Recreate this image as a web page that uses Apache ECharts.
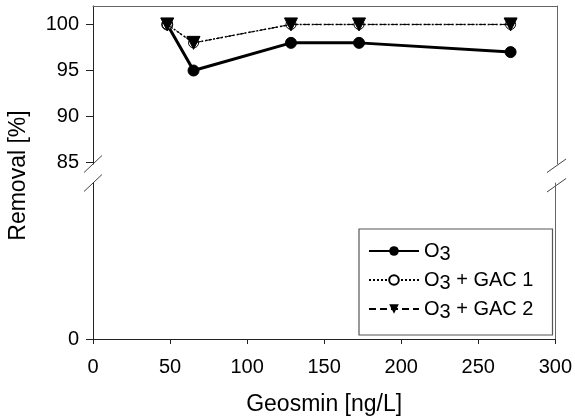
<!DOCTYPE html>
<html>
<head>
<meta charset="utf-8">
<script src="https://cdn.jsdelivr.net/npm/echarts@6/dist/echarts.min.js"></script>
<style>
html,body{margin:0;padding:0;background:#fff;}
#c{width:575px;height:419px;}
</style>
</head>
<body>
<div id="c"></div>
<script>
// ---- data ----
const geosmin = [48, 65, 128, 172, 270];
const o3 = [100, 95, 98, 98, 97];
const o3gac1 = [100, 98, 100, 100, 100];
const o3gac2 = [100, 98, 100, 100, 100];
const seriesNames = ['O3', 'O3 + GAC 1', 'O3 + GAC 2'];
const yTicksUpper = [85, 90, 95, 100];
const yTicksLower = [0];
const xMin = 0, xMax = 300, xStep = 50;
const xTitle = 'Geosmin [ng/L]';
const yTitle = 'Removal [%]';

const FONT = 'Arial, "Liberation Sans", sans-serif';
const pairs = arr => geosmin.map((x, i) => [x, arr[i]]);

const chart = echarts.init(document.getElementById('c'), null, {renderer: 'canvas'});

const baseX = {type: 'value', min: xMin, max: xMax, interval: xStep};

const option = {
  animation: false,
  backgroundColor: '#fff',
  textStyle: {fontFamily: FONT},
  grid: [
    {left: 93, right: 18, top: 6, height: 158},
    {left: 93, right: 18, top: 183, height: 156}
  ],
  xAxis: [
    Object.assign({}, baseX, {
      gridIndex: 0, position: 'top',
      axisLine: {show: true, lineStyle: {color: '#666', width: 1}},
      axisTick: {show: false}, axisLabel: {show: false}, splitLine: {show: false}
    }),
    Object.assign({}, baseX, {
      gridIndex: 1, position: 'bottom',
      name: xTitle, nameLocation: 'middle', nameGap: 54,
      nameTextStyle: {fontSize: 23, color: '#000', fontFamily: FONT},
      axisLine: {show: true, onZero: false, lineStyle: {color: '#222', width: 1}},
      axisTick: {show: true, inside: false, length: 5, lineStyle: {color: '#222'}},
      axisLabel: {show: true, margin: 18, fontSize: 20, color: '#000', fontFamily: FONT},
      splitLine: {show: false}
    })
  ],
  yAxis: [
    {
      type: 'value', gridIndex: 0, min: 84.86, max: 102, position: 'left',
      axisLine: {show: true, lineStyle: {color: '#222', width: 1}},
      axisTick: {show: true, length: 7, customValues: yTicksUpper, lineStyle: {color: '#222'}},
      axisLabel: {show: true, margin: 14, fontSize: 20, color: '#000', fontFamily: FONT, customValues: yTicksUpper},
      splitLine: {show: false}
    },
    {
      type: 'value', gridIndex: 1, min: 0, max: 10, position: 'left',
      axisLine: {show: true, lineStyle: {color: '#222', width: 1}},
      axisTick: {show: true, length: 7, customValues: yTicksLower, lineStyle: {color: '#222'}},
      axisLabel: {show: true, margin: 14, fontSize: 20, color: '#000', fontFamily: FONT, customValues: yTicksLower},
      splitLine: {show: false}
    },
    {
      type: 'value', gridIndex: 0, min: 84.86, max: 102, position: 'right',
      axisLine: {show: true, lineStyle: {color: '#666', width: 1}},
      axisTick: {show: false}, axisLabel: {show: false}, splitLine: {show: false}
    },
    {
      type: 'value', gridIndex: 1, min: 0, max: 10, position: 'right',
      axisLine: {show: true, lineStyle: {color: '#666', width: 1}},
      axisTick: {show: false}, axisLabel: {show: false}, splitLine: {show: false}
    }
  ],
  legend: {
    orient: 'vertical', left: 359, top: 229,
    padding: [12, 19, 13, 9],
    itemWidth: 50, itemHeight: 12, itemGap: 6,
    borderColor: '#555', borderWidth: 1.2, backgroundColor: '#fff',
    data: seriesNames,
    formatter: name => name.replace('O3', 'O{s|3}'),
    textStyle: {
      fontSize: 20, color: '#000', fontFamily: FONT,
      rich: {s: {fontSize: 20, color: '#000', fontFamily: FONT, padding: [6, 0, 0, 0]}}
    }
  },
  series: [
    {
      name: seriesNames[0], type: 'line', xAxisIndex: 0, yAxisIndex: 0,
      data: pairs(o3), symbol: 'circle', symbolSize: 11,
      lineStyle: {color: '#000', width: 3, type: 'solid'},
      itemStyle: {color: '#000', borderColor: '#000'}, z: 2
    },
    {
      name: seriesNames[1], type: 'line', xAxisIndex: 0, yAxisIndex: 0,
      data: pairs(o3gac1), symbol: 'circle', symbolSize: 10,
      lineStyle: {color: '#000', width: 1.5, type: [2, 2]},
      itemStyle: {color: '#fff', borderColor: '#000', borderWidth: 1}, z: 3
    },
    {
      name: seriesNames[2], type: 'line', xAxisIndex: 0, yAxisIndex: 0,
      data: pairs(o3gac2), symbol: 'triangle', symbolRotate: 180, symbolSize: 13,
      lineStyle: {color: '#000', width: 1, type: [7, 4]},
      itemStyle: {color: '#000', borderColor: '#000'}, z: 4
    }
  ],
  graphic: [
    {type: 'text', x: 19, y: 175.5, rotation: Math.PI / 2,
      style: {text: yTitle, font: '23px ' + FONT, fill: '#000', align: 'center', verticalAlign: 'middle'}},
    // axis break marks
    {type: 'line', shape: {x1: 84, y1: 172.5, x2: 102, y2: 155.5}, style: {stroke: '#444', lineWidth: 1}},
    {type: 'line', shape: {x1: 84, y1: 191.5, x2: 102, y2: 174.5}, style: {stroke: '#444', lineWidth: 1}},
    {type: 'line', shape: {x1: 547, y1: 172.5, x2: 566, y2: 159}, style: {stroke: '#444', lineWidth: 1}},
    {type: 'line', shape: {x1: 547, y1: 192, x2: 566, y2: 178.5}, style: {stroke: '#444', lineWidth: 1}}
  ]
};
chart.setOption(option);
</script>
</body>
</html>
